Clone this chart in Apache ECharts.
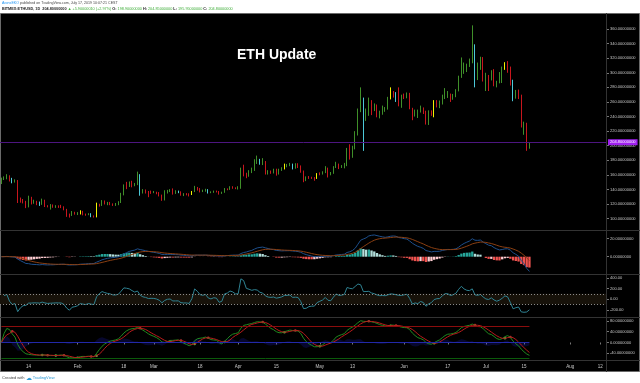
<!DOCTYPE html>
<html><head><meta charset="utf-8">
<script src="https://cdn.jsdelivr.net/npm/echarts@6/dist/echarts.min.js"></script>
<style>html,body{margin:0;padding:0;background:#fff}#c{width:640px;height:383px}</style>
</head><body><div id="c"></div>
<script>
// ---------- DATA ----------
const firstDay = '2019-01-04';
const lastAxisDay = '2019-08-14';
// daily candles [open, close, low, high], Jan 4 .. Jul 17 2019 (BITMEX:ETHUSD, 1D)
const ohlc = [
[149.0,154.6,147.5,156.3],[154.6,155.8,153.0,158.0],[155.8,157.8,154.0,161.0],[157.8,152.0,151.0,159.5],[152.0,150.6,148.5,156.0],
[150.6,151.4,149.5,154.0],[151.4,125.8,121.5,153.0],[125.8,125.4,122.0,129.0],[125.4,123.3,121.0,127.0],[123.3,116.2,114.5,124.5],
[116.2,128.6,115.5,131.5],[128.6,121.5,119.5,130.0],[121.5,123.4,120.5,126.0],[123.4,122.9,118.5,124.5],[122.9,119.6,117.5,123.5],
[119.6,124.9,119.0,127.5],[124.9,117.3,116.0,126.0],[117.3,116.7,115.5,118.5],[116.7,118.4,112.5,120.0],[118.4,116.2,115.0,119.5],
[116.2,117.5,114.8,118.5],[117.5,116.1,114.8,118.3],[116.1,115.8,114.5,119.0],[115.8,113.0,111.5,117.0],[113.0,105.5,102.5,113.5],
[105.5,104.5,101.5,107.0],[104.5,108.4,103.8,110.5],[108.4,106.6,105.5,109.5],
[106.6,107.1,105.0,109.0],[107.1,110.0,105.8,111.5],[110.0,105.8,104.6,110.8],[105.8,105.3,104.0,107.0],[105.3,106.3,104.8,107.5],
[106.3,103.5,102.0,107.5],[103.5,102.4,101.5,104.5],[102.4,119.5,101.8,122.0],[119.5,118.8,116.5,120.5],[118.8,124.4,117.5,125.5],
[124.4,120.3,119.5,125.0],[120.3,121.3,118.5,123.0],[121.3,120.0,118.5,123.0],[120.0,119.0,117.5,121.0],[119.0,119.4,117.5,121.5],
[119.4,122.6,118.5,124.0],[122.6,133.3,121.5,135.5],[133.3,145.3,132.0,147.0],[145.3,144.9,140.5,150.5],[144.9,148.9,143.5,151.0],
[148.9,146.0,143.0,152.0],[146.0,147.4,144.5,149.0],[147.4,159.6,146.0,164.5],[159.6,136.7,131.5,161.0],[136.7,138.7,134.5,140.5],
[138.7,136.6,134.5,140.0],[136.6,136.0,129.5,138.0],[136.0,135.6,134.0,138.5],
[135.6,136.3,135.0,138.0],[136.3,135.8,133.5,137.0],[135.8,131.9,130.5,136.5],[131.9,125.9,124.5,133.0],[125.9,137.6,125.0,139.0],
[137.6,137.9,134.5,139.5],[137.9,139.1,136.5,140.5],[139.1,134.8,133.0,141.5],[134.8,137.9,134.0,139.0],[137.9,136.9,135.0,138.5],
[136.9,132.9,131.5,137.5],[132.9,134.3,131.0,135.0],[134.3,133.2,132.0,135.0],[133.2,133.1,130.5,134.8],[133.1,137.0,132.5,138.0],
[137.0,142.9,136.5,145.0],[142.9,139.5,138.5,143.5],[139.5,137.6,136.0,142.0],[137.6,138.8,136.5,139.8],[138.8,139.9,137.0,141.0],
[139.9,135.7,134.5,140.5],[135.7,136.3,135.0,137.5],[136.3,137.6,135.5,138.5],[137.6,137.4,136.0,138.5],[137.4,135.0,133.0,138.0],
[135.0,136.1,134.0,137.0],[136.1,140.9,135.5,142.0],[140.9,140.5,139.0,141.5],[140.5,143.1,139.5,144.5],[143.1,142.5,141.0,144.5],
[142.5,141.5,140.5,143.0],
[141.5,141.8,140.0,144.5],[141.8,163.0,141.0,170.0],[163.0,160.8,158.0,174.0],[160.8,158.0,155.5,163.0],[158.0,165.2,157.5,166.5],
[165.2,166.5,162.5,170.0],[166.5,178.2,165.5,181.5],[178.2,180.9,175.0,186.5],[180.9,176.1,174.0,182.0],[176.1,177.8,173.5,183.0],
[177.8,164.3,160.5,179.0],[164.3,164.7,160.5,166.5],[164.7,163.5,161.5,166.0],[163.5,167.5,162.0,168.5],[167.5,161.4,159.0,168.5],
[161.4,167.4,160.5,168.5],[167.4,168.3,165.5,170.5],[168.3,173.2,167.5,175.5],[173.2,173.3,170.5,175.0],[173.3,174.8,172.0,176.5],
[174.8,170.7,167.5,175.5],[170.7,171.8,168.5,176.0],[171.8,170.6,169.5,176.0],[170.6,165.0,163.0,173.0],[165.0,154.4,150.0,166.0],
[154.4,156.4,151.5,158.0],[156.4,156.1,154.5,158.5],[156.1,155.8,154.5,157.5],[155.8,155.0,152.0,157.0],[155.0,162.1,154.5,162.5],
[162.1,161.1,159.5,163.5],[161.1,164.1,160.5,165.0],[164.1,168.0,162.5,172.0],[168.0,162.1,156.5,170.0],[162.1,162.6,159.5,164.0],
[162.6,170.6,161.5,172.0],[170.6,174.4,169.5,178.0],[174.4,170.9,168.0,175.5],[170.9,171.9,169.5,173.5],[171.9,173.0,169.0,176.5],
[173.0,194.8,172.0,197.0],[194.8,186.7,181.0,202.0],[186.7,197.0,183.5,200.0],[197.0,216.0,195.0,220.0],[216.0,248.6,214.0,251.0],
[248.6,262.4,246.0,280.0],[262.4,238.0,193.0,266.0],[238.0,243.4,234.0,251.0],[243.4,261.5,241.0,266.0],[261.5,251.7,242.0,262.5],
[251.7,253.7,247.5,258.0],[253.7,243.7,239.0,256.5],[243.7,245.0,237.5,248.0],[245.0,248.4,242.5,255.0],[248.4,250.1,246.5,253.0],
[250.1,264.9,249.5,267.0],[264.9,272.4,263.5,280.0],[272.4,272.0,266.0,275.0],[272.0,268.2,260.0,273.5],[268.2,256.9,254.0,280.0],
[256.9,268.5,252.0,270.0],
[268.5,266.0,264.0,271.5],[266.0,271.1,265.0,273.0],[271.1,251.2,250.0,272.5],[251.2,243.5,235.0,252.0],[243.5,246.5,240.0,249.5],
[246.5,247.0,238.0,249.5],[247.0,251.9,245.5,255.0],[251.9,247.2,243.5,252.5],[247.2,230.6,229.0,248.0],[230.6,246.2,228.5,248.5],
[246.2,244.6,241.0,248.5],[244.6,260.3,239.0,262.5],[260.3,254.8,252.5,262.5],[254.8,258.8,251.5,262.0],[258.8,268.1,256.5,270.0],
[268.1,268.4,264.0,279.0],[268.4,270.7,265.5,275.0],[270.7,264.6,260.0,271.5],[264.6,269.8,263.0,271.0],[269.8,275.7,266.5,277.5],
[275.7,294.0,274.5,296.0],[294.0,307.8,293.0,321.0],[307.8,309.6,298.5,314.0],[309.6,310.5,301.0,312.5],[310.5,316.0,308.0,319.5],
[316.0,336.9,313.0,365.0],[336.9,294.3,280.0,339.0],[294.3,311.3,290.0,314.0],[311.3,319.6,304.0,322.0],[319.6,290.3,288.0,321.5],
[290.3,293.6,275.0,300.0],[293.6,291.6,275.0,297.0],[291.6,302.4,289.5,303.5],[302.4,283.0,281.5,305.0],[283.0,287.4,280.0,289.0],
[287.4,288.6,285.5,301.0],[288.6,306.8,286.0,308.5],[306.8,312.6,304.0,314.5],[312.6,307.7,300.0,316.0],[307.7,288.8,282.5,308.5],
[288.8,268.7,261.0,290.5],[268.7,275.3,264.5,276.5],[275.3,268.5,264.0,277.0],[268.5,228.0,225.0,270.0],[228.0,229.0,215.0,233.0],
[229.0,198.9,193.0,231.5],[198.9,204.8,195.95,204.85]
];
const yellowDays = ['2019-02-02','2019-02-08','2019-03-15','2019-04-18','2019-04-30','2019-05-27','2019-06-12','2019-07-08'];
const cyanDays = ['2019-01-08','2019-01-18','2019-02-06','2019-02-24','2019-03-10','2019-03-21','2019-04-09','2019-04-21','2019-05-17','2019-05-29','2019-06-27','2019-07-11'];
const priceTicks = [100,120,140,160,180,200,220,240,260,280,300,320,340,360];
const macdTicks = [0,20];
const cciTicks = [-200,0,200,400];
const wtTicks = [-40,0,40,80];
const timeTickDates = ['2019-01-14','2019-02-01','2019-02-18','2019-03-01','2019-03-18','2019-04-01','2019-04-15','2019-05-01','2019-05-13','2019-06-01','2019-06-17','2019-07-01','2019-07-15','2019-08-01','2019-08-12'];
const timeTickText = ['14','Feb','18','Mar','18','Apr','15','May','13','Jun','17','Jul','15','Aug','12'];
const lastPrice = 204.8;
const cciBand = [-100, 100];
const wtLevels = [60, 0, -60];
const changeText = '+5.90000010 (+2.97%)';

// ---------- helpers ----------
const dates = [];
for (let t = Date.parse(firstDay); t <= Date.parse(lastAxisDay); t += 86400000) dates.push(new Date(t).toISOString().slice(0,10));
function ema(src, n){const k=2/(n+1);let p=null;return src.map(v=>{p=(p==null)?v:p+k*(v-p);return p;});}
function sma(src, n){return src.map((v,i)=>{const w=src.slice(Math.max(0,i-n+1),i+1);return w.reduce((a,b)=>a+b,0)/w.length;});}
const close = ohlc.map(r=>r[1]);
const hlc3 = ohlc.map(r=>(r[1]+r[2]+r[3])/3);
// MACD 12/26/9 derived from closes
const fast = ema(close,12), slow = ema(close,26);
const macd = fast.map((v,i)=>v-slow[i]);
const signal = ema(macd,9);
const hist = macd.map((v,i)=>v-signal[i]);
const histData = hist.map((h,i)=>{const p=i?hist[i-1]:h;let c;
  if(h>=0) c = h>=p ? '#26a69a' : '#b2dfdb'; else c = h<p ? '#ef5350' : '#ffcdd2';
  return {value:h, itemStyle:{color:c}};});
// CCI 20 derived from hlc3
const cci = hlc3.map((v,i)=>{if(i<1) return null;const w=hlc3.slice(Math.max(0,i-19),i+1);const m=w.reduce((a,b)=>a+b,0)/w.length;
  const dv=w.reduce((a,b)=>a+Math.abs(b-m),0)/w.length;return dv?(v-m)/(0.015*dv):0;});
// WaveTrend 10/21 derived from hlc3
const esa = ema(hlc3,10);
const dd = ema(hlc3.map((v,i)=>Math.abs(v-esa[i])),10);
const ci = hlc3.map((v,i)=>dd[i]?(v-esa[i])/(0.015*dd[i]):0);
const wt1 = ema(ci,21);
const wt2 = sma(wt1,4);
const wtDiff = wt1.map((v,i)=>v-wt2[i]);
const crossUp=[], crossDn=[];
for(let i=1;i<wt1.length;i++){
  if(wt1[i-1]<wt2[i-1] && wt1[i]>=wt2[i]) crossUp.push([dates[i],wt2[i]]);
  if(wt1[i-1]>wt2[i-1] && wt1[i]<=wt2[i]) crossDn.push([dates[i],wt2[i]]);
}
const candleData = ohlc.map((r,i)=>{const d=dates[i];
  const c = yellowDays.includes(d)?'#f2f200':(cyanDays.includes(d)?'#4cc8d8':null);
  return c?{value:r,itemStyle:{color:c,color0:c,borderColor:c,borderColor0:c}}:r;});
const last = ohlc[ohlc.length-1];

// ---------- chart ----------
const FONT='Liberation Sans';
const lbl = {fontSize:4, color:'#c8c8c8', margin:3, fontFamily:FONT};
function yAx(gi,min,max,ticks,fmt){return {type:'value',gridIndex:gi,position:'right',min,max,
  axisLine:{show:false},splitLine:{show:false},
  axisTick:{show:true,length:2,lineStyle:{color:'#777'},customValues:ticks},
  axisLabel:Object.assign({show:true,customValues:ticks,formatter:fmt},lbl)};}
function xAx(gi,show){return {type:'category',gridIndex:gi,data:dates,boundaryGap:true,
  axisLine:{show:false},
  axisTick:{show:show,length:2,lineStyle:{color:'#777'},alignWithLabel:true,interval:(i,v)=>timeTickDates.includes(v)},
  axisLabel:{show:show,interval:(i,v)=>timeTickDates.includes(v),formatter:v=>timeTickText[timeTickDates.indexOf(v)],fontSize:4.5,color:'#c8c8c8',margin:4,fontFamily:FONT},
  splitLine:{show:false}};}

const hdr1 = '{a|AronsEKO} {b|published on TradingView.com, July 17, 2019 10:07:21 CEST}';
const hdr2 = '{k|BITMEX:ETHUSD, 1D}  {k|'+last[1].toFixed(8)+'} {g|\u25B2 '+changeText+'} {k|O:} {g|'+last[0].toFixed(8)+'} {k|H:} {g|'+last[3].toFixed(8)+'} {k|L:} {g|'+last[2].toFixed(8)+'} {k|C:} {g|'+last[1].toFixed(8)+'}';
const sepColor='#333';
const option = {
  animation:false, backgroundColor:'#ffffff',
  grid:[
    {left:0,right:33,top:13,height:217},
    {left:0,right:33,top:231,height:43},
    {left:0,right:33,top:275,height:42},
    {left:0,right:33,top:318,height:42}
  ],
  xAxis:[xAx(0,false),xAx(1,false),xAx(2,false),xAx(3,true)],
  yAxis:[
    yAx(0,84.51,381.93,priceTicks,v=>v.toFixed(8)),
    yAx(1,-19.22,28.56,macdTicks,v=>v.toFixed(8)),
    yAx(2,-333,452,cciTicks,v=>v.toFixed(2)),
    yAx(3,-64.8,90.7,wtTicks,v=>v.toFixed(8))
  ],
  series:[
    {type:'candlestick',xAxisIndex:0,yAxisIndex:0,data:candleData,barWidth:1.2,
     itemStyle:{color:'#3f8f29',color0:'#c8161d',borderColor:'#3f8f29',borderColor0:'#c8161d',borderWidth:1},
     markLine:{symbol:'none',silent:true,animation:false,lineStyle:{color:'#4d1580',width:1,type:'solid'},
       label:{show:true,position:'end',formatter:lastPrice.toFixed(8),color:'#fff',backgroundColor:'#a020f0',fontSize:4,padding:[1,2,1,2],distance:1,fontFamily:FONT},
       data:[{yAxis:lastPrice}]}},
    {type:'bar',xAxisIndex:1,yAxisIndex:1,data:histData,barWidth:'85%'},
    {type:'line',xAxisIndex:1,yAxisIndex:1,data:macd,symbol:'none',lineStyle:{color:'#1d4f8c',width:1}},
    {type:'line',xAxisIndex:1,yAxisIndex:1,data:signal,symbol:'none',lineStyle:{color:'#8a3f12',width:1}},
    {type:'line',xAxisIndex:2,yAxisIndex:2,data:cci,symbol:'none',lineStyle:{color:'#2f8393',width:1},
     markArea:{silent:true,itemStyle:{color:'#17120a'},data:[[{yAxis:cciBand[0]},{yAxis:cciBand[1]}]]},
     markLine:{symbol:'none',silent:true,label:{show:false},lineStyle:{color:'#8a8a8a',width:1,type:[1,2]},
       data:cciBand.map(v=>({yAxis:v}))}},
    {type:'line',xAxisIndex:3,yAxisIndex:3,data:wtDiff,symbol:'none',lineStyle:{width:0},areaStyle:{color:'rgba(30,30,200,0.32)'},
     markLine:{symbol:'none',silent:true,label:{show:false},
       data:[
         [{coord:[dates[0],wtLevels[0]],lineStyle:{color:'#8b0d0d',width:1,type:'solid'}},{coord:[dates[ohlc.length-1],wtLevels[0]]}],
         [{coord:[dates[0],wtLevels[1]],lineStyle:{color:'#2228a8',width:1,type:'solid'}},{coord:[dates[ohlc.length-1],wtLevels[1]]}],
         [{coord:[dates[0],wtLevels[2]],lineStyle:{color:'#0b5a0b',width:1,type:'solid'}},{coord:[dates[ohlc.length-1],wtLevels[2]]}]
       ]}},
    {type:'line',xAxisIndex:3,yAxisIndex:3,data:wt1,symbol:'none',lineStyle:{color:'#1f8a1f',width:1}},
    {type:'line',xAxisIndex:3,yAxisIndex:3,data:wt2,symbol:'none',lineStyle:{color:'#b81c1c',width:1}},
    {type:'scatter',xAxisIndex:3,yAxisIndex:3,data:crossUp,symbolSize:2.5,itemStyle:{color:'#7be05a'}},
    {type:'scatter',xAxisIndex:3,yAxisIndex:3,data:crossDn,symbolSize:2.5,itemStyle:{color:'#e04040'}}
  ],
  graphic:[
    {type:'rect',z:-10,shape:{x:0.5,y:13.5,width:639,height:358},style:{fill:'#000',stroke:'#6a6a6a',lineWidth:1}},
    {type:'line',z:50,shape:{x1:0,y1:230.5,x2:640,y2:230.5},style:{stroke:sepColor,lineWidth:1}},
    {type:'line',z:50,shape:{x1:0,y1:274.5,x2:640,y2:274.5},style:{stroke:sepColor,lineWidth:1}},
    {type:'line',z:50,shape:{x1:0,y1:317.5,x2:640,y2:317.5},style:{stroke:sepColor,lineWidth:1}},
    {type:'line',z:50,shape:{x1:0,y1:360.5,x2:640,y2:360.5},style:{stroke:sepColor,lineWidth:1}},
    {type:'line',z:50,shape:{x1:606.5,y1:13,x2:606.5,y2:372},style:{stroke:sepColor,lineWidth:1}},
    {type:'text',z:60,left:2,top:1,style:{text:hdr1,fontSize:3.6,fontFamily:FONT,
      rich:{a:{fill:'#2196f3',fontSize:3.6,fontFamily:FONT},b:{fill:'#444',fontSize:3.6,fontFamily:FONT}}}},
    {type:'text',z:60,left:2,top:6.5,style:{text:hdr2,fontSize:3.8,fontFamily:FONT,
      rich:{k:{fill:'#222',fontSize:3.8,fontWeight:'bold',fontFamily:FONT},g:{fill:'#3fae3a',fontSize:3.8,fontFamily:FONT}}}},
    {type:'text',z:60,left:237,top:48,style:{text:'ETH Update',fill:'#fff',fontSize:14,fontWeight:'bold',fontFamily:FONT}},
    {type:'text',z:60,left:2,top:375,style:{text:'{c|Created with} {t|\u2601} {v|TradingView}',fontSize:4,fontFamily:FONT,
      rich:{c:{fill:'#444',fontSize:4,fontFamily:FONT},t:{fill:'#2e9ad6',fontSize:6},v:{fill:'#2e9ad6',fontSize:4,fontFamily:FONT}}}}
  ]
};
const chart = echarts.init(document.getElementById('c'),null,{renderer:'canvas',width:640,height:383});
chart.setOption(option);
</script>
</body></html>
